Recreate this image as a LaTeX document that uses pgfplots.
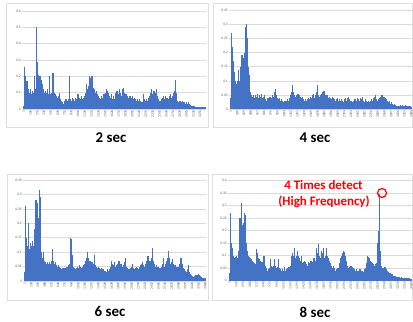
\documentclass[border=0pt]{standalone}
\usepackage{pgfplots}
\pgfplotsset{compat=1.18}
\usepackage{fontspec}
\setmainfont{Carlito}
\definecolor{xlblue}{RGB}{68,114,196}
\definecolor{gridc}{RGB}{217,217,217}
\definecolor{tickc}{RGB}{89,89,89}
\definecolor{framec}{RGB}{222,222,222}
\pgfplotsset{
  panel/.style={
    scale only axis, anchor=south west,
    axis line style={draw=none}, major tick length=0pt,
    ymajorgrids, grid style={gridc, line width=0.5bp},
    ymin=0,
    tick label style={font=\fontsize{3.6}{4}\selectfont, text=tickc},
    /pgf/number format/assume math mode=true,
    /pgf/number format/1000 sep={},
    yticklabel style={/pgf/number format/fixed, /pgf/number format/precision=2, inner sep=1bp},
    xticklabel style={rotate=90, anchor=east, inner sep=1bp},
  },
  comb/.style={ycomb, xlblue, line width=1.15bp},
}
\begin{document}
\begin{tikzpicture}
\useasboundingbox (0bp,0bp) rectangle (413bp,322bp);
\draw[framec, line width=0.5bp] (6bp,195bp) rectangle (208bp,319bp);
\draw[framec, line width=0.5bp] (213bp,195bp) rectangle (412.5bp,319bp);
\draw[framec, line width=0.5bp] (7bp,22bp) rectangle (208bp,148bp);
\draw[framec, line width=0.5bp] (212bp,22bp) rectangle (412.5bp,148bp);

% ---------- 2 sec ----------
\begin{axis}[panel, at={(22bp,213bp)}, width=184bp, height=98bp,
  xmin=-30, xmax=3360, ymax=0.6, ytick={0,0.1,0.2,0.3,0.4,0.5,0.6},
  xtick={1,126,...,3251}]
\addplot[comb] table[header=false, row sep=\\, x expr=\coordindex*20+1, y index=0] {
0.02\\0.26\\0.2\\0.17\\0.12\\0.1\\0.12\\0.09\\0.11\\0.1\\
0.2\\0.12\\0.5\\0.29\\0.21\\0.2\\0.18\\0.15\\0.12\\0.1\\
0.11\\0.1\\0.12\\0.09\\0.2\\0.09\\0.1\\0.22\\0.1\\0.09\\
0.08\\0.07\\0.08\\0.1\\0.06\\0.05\\0.04\\0.03\\0.05\\0.06\\
0.05\\0.06\\0.2\\0.06\\0.05\\0.07\\0.06\\0.05\\0.07\\0.06\\
0.09\\0.07\\0.06\\0.08\\0.06\\0.07\\0.08\\0.1\\0.15\\0.12\\
0.14\\0.2\\0.19\\0.2\\0.13\\0.12\\0.1\\0.11\\0.09\\0.08\\
0.07\\0.06\\0.08\\0.07\\0.09\\0.1\\0.12\\0.11\\0.1\\0.08\\
0.07\\0.09\\0.06\\0.08\\0.06\\0.1\\0.11\\0.09\\0.12\\0.1\\
0.08\\0.12\\0.13\\0.1\\0.09\\0.09\\0.08\\0.07\\0.08\\0.07\\
0.08\\0.06\\0.07\\0.06\\0.05\\0.06\\0.05\\0.06\\0.05\\0.04\\
0.09\\0.06\\0.05\\0.06\\0.05\\0.07\\0.08\\0.1\\0.12\\0.09\\
0.11\\0.1\\0.12\\0.08\\0.06\\0.05\\0.05\\0.06\\0.07\\0.08\\
0.06\\0.08\\0.07\\0.06\\0.08\\0.09\\0.07\\0.08\\0.1\\0.11\\
0.18\\0.1\\0.05\\0.04\\0.05\\0.04\\0.05\\0.04\\0.04\\0.03\\
0.04\\0.03\\0.045\\0.03\\0.025\\0.02\\0.02\\0.018\\0.015\\0.015\\
0.012\\0.012\\0.01\\0.01\\0.012\\0.01\\0.01\\0.012\\
};
\end{axis}

% ---------- 4 sec ----------
\begin{axis}[panel, at={(229bp,212.7bp)}, width=183bp, height=99.3bp,
  xmin=-30, xmax=3500, ymax=0.35, ytick={0,0.05,0.1,0.15,0.2,0.25,0.3,0.35},
  xtick={1,130,...,3484}]
\addplot[comb] table[header=false, row sep=\\, x expr=\coordindex*20+1, y index=0] {
0.04\\0.27\\0.22\\0.17\\0.13\\0.1\\0.09\\0.1\\0.14\\0.1\\
0.15\\0.19\\0.18\\0.2\\0.29\\0.3\\0.25\\0.15\\0.12\\0.06\\
0.05\\0.045\\0.05\\0.04\\0.05\\0.045\\0.055\\0.04\\0.05\\0.045\\
0.055\\0.04\\0.045\\0.05\\0.035\\0.03\\0.04\\0.035\\0.045\\0.04\\
0.05\\0.045\\0.06\\0.07\\0.05\\0.04\\0.035\\0.04\\0.03\\0.035\\
0.03\\0.025\\0.03\\0.028\\0.03\\0.035\\0.03\\0.04\\0.05\\0.06\\
0.085\\0.06\\0.05\\0.045\\0.05\\0.055\\0.05\\0.045\\0.04\\0.045\\
0.035\\0.03\\0.035\\0.03\\0.035\\0.04\\0.035\\0.045\\0.04\\0.05\\
0.055\\0.04\\0.05\\0.06\\0.085\\0.05\\0.045\\0.05\\0.055\\0.06\\
0.065\\0.05\\0.045\\0.05\\0.04\\0.045\\0.04\\0.035\\0.045\\0.04\\
0.035\\0.03\\0.035\\0.04\\0.03\\0.035\\0.03\\0.035\\0.03\\0.025\\
0.035\\0.04\\0.03\\0.04\\0.045\\0.035\\0.03\\0.03\\0.025\\0.03\\
0.035\\0.03\\0.04\\0.035\\0.03\\0.04\\0.035\\0.045\\0.03\\0.025\\
0.035\\0.03\\0.025\\0.03\\0.025\\0.03\\0.035\\0.03\\0.04\\0.045\\
0.05\\0.035\\0.03\\0.035\\0.04\\0.045\\0.05\\0.04\\0.045\\0.04\\
0.035\\0.03\\0.025\\0.03\\0.02\\0.025\\0.02\\0.015\\0.018\\0.015\\
0.012\\0.01\\0.012\\0.01\\0.015\\0.012\\0.014\\0.012\\0.01\\0.015\\
0.012\\0.01\\0.012\\0.01\\0.008\\
};
\end{axis}

% ---------- 6 sec ----------
\begin{axis}[panel, at={(23bp,41bp)}, width=183bp, height=101bp,
  xmin=-30, xmax=3500, ymax=0.35, ytick={0,0.05,0.1,0.15,0.2,0.25,0.3,0.35},
  xtick={1,130,...,3484}]
\addplot[comb] table[header=false, row sep=\\, x expr=\coordindex*20+1, y index=0] {
0.03\\0.26\\0.15\\0.12\\0.2\\0.11\\0.13\\0.12\\0.14\\0.12\\
0.18\\0.28\\0.27\\0.22\\0.315\\0.29\\0.1\\0.08\\0.1\\0.07\\
0.065\\0.06\\0.065\\0.06\\0.065\\0.06\\0.07\\0.11\\0.07\\0.06\\
0.065\\0.055\\0.05\\0.055\\0.05\\0.045\\0.04\\0.045\\0.04\\0.045\\
0.05\\0.05\\0.055\\0.06\\0.15\\0.145\\0.09\\0.05\\0.045\\0.04\\
0.045\\0.05\\0.045\\0.055\\0.05\\0.045\\0.05\\0.055\\0.06\\0.07\\
0.08\\0.1\\0.08\\0.07\\0.06\\0.065\\0.06\\0.09\\0.055\\0.05\\
0.045\\0.05\\0.045\\0.04\\0.045\\0.04\\0.04\\0.035\\0.035\\0.03\\
0.04\\0.035\\0.04\\0.05\\0.07\\0.06\\0.055\\0.065\\0.05\\0.055\\
0.06\\0.07\\0.055\\0.06\\0.05\\0.055\\0.065\\0.08\\0.05\\0.045\\
0.04\\0.04\\0.045\\0.05\\0.06\\0.045\\0.04\\0.045\\0.05\\0.045\\
0.04\\0.05\\0.055\\0.06\\0.065\\0.055\\0.05\\0.06\\0.07\\0.085\\
0.06\\0.07\\0.08\\0.115\\0.07\\0.06\\0.05\\0.055\\0.05\\0.05\\
0.045\\0.045\\0.05\\0.06\\0.08\\0.05\\0.06\\0.07\\0.08\\0.105\\
0.08\\0.06\\0.065\\0.075\\0.06\\0.055\\0.05\\0.045\\0.05\\0.06\\
0.08\\0.08\\0.06\\0.045\\0.04\\0.035\\0.03\\0.04\\0.055\\0.03\\
0.025\\0.02\\0.018\\0.015\\0.018\\0.02\\0.02\\0.022\\0.025\\0.02\\
0.018\\0.015\\0.012\\0.01\\0.01\\
};
\end{axis}

% ---------- 8 sec ----------
\begin{axis}[panel, at={(228bp,41.3bp)}, width=184bp, height=100.4bp,
  xmin=-30, xmax=3500, ymax=0.4, ytick={0,0.05,0.1,0.15,0.2,0.25,0.3,0.35,0.4},
  xtick={1,130,...,3484}]
\addplot[comb] table[header=false, row sep=\\, x expr=\coordindex*20+1, y index=0] {
0.03\\0.27\\0.15\\0.13\\0.1\\0.09\\0.095\\0.1\\0.09\\0.12\\
0.25\\0.31\\0.22\\0.23\\0.27\\0.26\\0.15\\0.12\\0.1\\0.095\\
0.09\\0.085\\0.08\\0.075\\0.07\\0.065\\0.125\\0.11\\0.09\\0.085\\
0.08\\0.075\\0.07\\0.1\\0.06\\0.05\\0.04\\0.045\\0.05\\0.085\\
0.06\\0.055\\0.06\\0.085\\0.06\\0.05\\0.055\\0.085\\0.05\\0.045\\
0.04\\0.045\\0.04\\0.055\\0.04\\0.045\\0.05\\0.055\\0.06\\0.1\\
0.11\\0.1\\0.13\\0.09\\0.1\\0.12\\0.1\\0.09\\0.08\\0.1\\
0.07\\0.075\\0.08\\0.075\\0.065\\0.06\\0.075\\0.07\\0.08\\0.06\\
0.075\\0.09\\0.08\\0.13\\0.11\\0.145\\0.1\\0.09\\0.12\\0.11\\
0.13\\0.09\\0.1\\0.13\\0.1\\0.09\\0.08\\0.07\\0.06\\0.05\\
0.06\\0.05\\0.04\\0.045\\0.05\\0.07\\0.09\\0.1\\0.11\\0.12\\
0.115\\0.1\\0.08\\0.06\\0.05\\0.055\\0.06\\0.06\\0.055\\0.05\\
0.045\\0.04\\0.045\\0.04\\0.04\\0.045\\0.035\\0.04\\0.035\\0.045\\
0.05\\0.07\\0.1\\0.095\\0.09\\0.08\\0.075\\0.07\\0.065\\0.06\\
0.065\\0.07\\0.15\\0.2\\0.345\\0.12\\0.06\\0.05\\0.05\\0.055\\
0.045\\0.04\\0.035\\0.03\\0.03\\0.025\\0.025\\0.02\\0.02\\0.018\\
0.015\\0.015\\0.016\\0.015\\0.012\\0.014\\0.012\\0.012\\0.01\\0.012\\
0.01\\0.01\\0.009\\0.008\\0.008\\
};
\end{axis}

% titles
\node[font=\fontsize{15}{15}\selectfont\bfseries] at (111bp,184.5bp) {2 sec};
\node[font=\fontsize{15}{15}\selectfont\bfseries] at (315bp,184.5bp) {4 sec};
\node[font=\fontsize{15}{15}\selectfont\bfseries] at (110bp,11bp) {6 sec};
\node[font=\fontsize{15}{15}\selectfont\bfseries] at (315bp,9.5bp) {8 sec};
% annotation
\node[font=\fontsize{13}{13}\selectfont\bfseries, text=red] at (323.5bp,136.5bp) {4 Times detect};
\node[font=\fontsize{13}{13}\selectfont\bfseries, text=red] at (324bp,120bp) {(High Frequency)};
\draw[red, line width=1.2bp] (382bp,129bp) circle (4.5bp);
\end{tikzpicture}
\end{document}
